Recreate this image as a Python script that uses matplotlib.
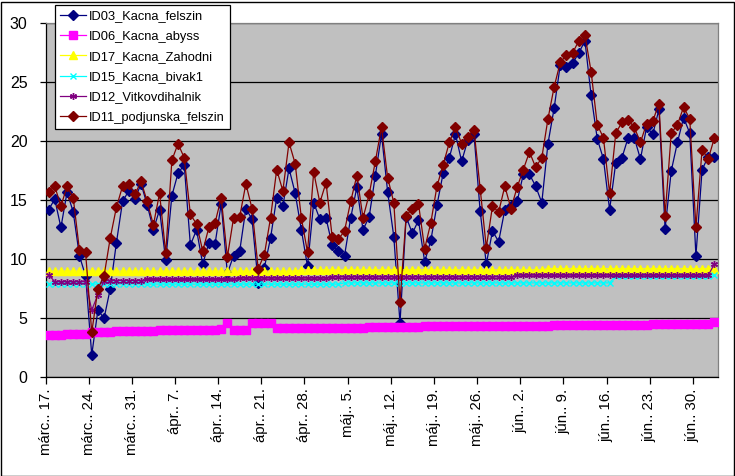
import matplotlib
matplotlib.use("Agg")
import matplotlib.pyplot as plt
from matplotlib.patches import Rectangle
import numpy as np

plt.rcParams['font.family'] = ['Liberation Sans', 'DejaVu Sans']

# ---------------- data (daily, márc. 17 -> júl. 3) ----------------
tick_labels = ["márc.. 17.", "márc.. 24.", "márc.. 31.", "ápr.. 7.", "ápr.. 14.",
               "ápr.. 21.", "ápr.. 28.", "máj.. 5.", "máj.. 12.", "máj.. 19.",
               "máj.. 26.", "jún.. 2.", "jún.. 9.", "jún.. 16.", "jún.. 23.", "jún.. 30."]

id03_kacna_felszin = [
    14.2, 15.1, 12.7, 15.7, 14.0, 10.3, 8.6, 1.9, 5.7, 5.0,
    7.5, 11.4, 14.9, 15.8, 15.1, 16.4, 14.6, 12.5, 14.2, 9.9,
    15.4, 17.3, 18.0, 11.2, 12.5, 9.6, 11.4, 11.3, 14.7, 8.8,
    10.3, 10.7, 14.3, 13.4, 8.0, 9.3, 11.8, 15.2, 14.5, 17.7,
    15.6, 12.5, 9.4, 14.8, 13.4, 13.5, 11.2, 10.7, 10.3, 13.5,
    16.1, 12.5, 13.6, 17.1, 20.6, 15.7, 11.9, 4.6, 13.6, 12.2,
    13.3, 9.8, 11.6, 14.6, 17.3, 18.6, 20.6, 18.3, 20.1, 20.6,
    14.1, 9.6, 12.4, 11.5, 14.2, 14.5, 14.9, 17.2, 17.2, 16.2,
    14.8, 19.8, 22.8, 26.5, 26.3, 26.6, 27.5, 28.5, 23.9, 20.2,
    18.5, 14.2, 18.2, 18.6, 20.3, 20.3, 18.5, 21.2, 20.6, 22.7,
    12.6, 17.5, 19.9, 22.0, 20.7, 10.3, 17.6, 18.7, 18.7]

id06_kacna_abyss = [
    3.6, 3.6, 3.6, 3.7, 3.7, 3.7, 3.7, 3.8, 3.8, 3.8,
    3.8, 3.9, 3.9, 3.9, 3.9, 3.9, 3.9, 3.9, 4.0, 4.0,
    4.0, 4.0, 4.0, 4.0, 4.0, 4.0, 4.0, 4.0, 4.1, 4.6,
    4.0, 4.0, 4.0, 4.6, 4.6, 4.6, 4.6, 4.2, 4.2, 4.2,
    4.2, 4.2, 4.2, 4.2, 4.2, 4.2, 4.2, 4.2, 4.2, 4.2,
    4.2, 4.2, 4.3, 4.3, 4.3, 4.3, 4.3, 4.3, 4.3, 4.3,
    4.3, 4.35, 4.35, 4.35, 4.35, 4.35, 4.35, 4.35, 4.35, 4.35,
    4.35, 4.35, 4.35, 4.35, 4.35, 4.35, 4.35, 4.35, 4.35, 4.35,
    4.35, 4.35, 4.45, 4.45, 4.45, 4.45, 4.45, 4.45, 4.45, 4.45,
    4.45, 4.45, 4.45, 4.45, 4.45, 4.45, 4.45, 4.45, 4.55, 4.55,
    4.55, 4.55, 4.55, 4.55, 4.55, 4.55, 4.55, 4.55, 4.7]

id17_kacna_zahodni = [
    9.0, 9.0, 9.0, 9.0, 9.0, 9.0, 9.0, 9.0, 9.0, 9.0,
    9.0, 9.0, 9.0, 9.0, 9.0, 9.0, 9.0, 9.0, 9.0, 9.0,
    9.0, 9.0, 9.0, 9.0, 9.0, 9.0, 9.0, 9.0, 9.0, 9.0,
    9.0, 9.0, 9.0, 9.0, 9.0, 9.0, 9.0, 9.0, 9.0, 9.0,
    9.0, 9.1, 9.1, 9.1, 9.1, 9.1, 9.1, 9.1, 9.1, 9.1,
    9.1, 9.1, 9.1, 9.1, 9.1, 9.1, 9.1, 9.1, 9.1, 9.1,
    9.1, 9.1, 9.1, 9.1, 9.1, 9.1, 9.1, 9.1, 9.1, 9.1,
    9.1, 9.1, 9.1, 9.1, 9.1, 9.1, 9.1, 9.1, 9.1, 9.1,
    9.1, 9.2, 9.2, 9.2, 9.2, 9.2, 9.2, 9.2, 9.2, 9.2,
    9.2, 9.2, 9.2, 9.2, 9.2, 9.2, 9.2, 9.2, 9.2, 9.2,
    9.2, 9.2, 9.2, 9.2, 9.2, 9.2, 9.2, 9.2, 9.2]

id15_kacna_bivak1 = [
    7.9, 7.9, 7.9, 7.9, 7.9, 7.9, 7.9, 7.9, 7.9, 7.9,
    7.9, 7.9, 7.9, 7.9, 7.9, 7.9, 7.9, 7.9, 7.9, 7.9,
    7.9, 7.9, 7.9, 7.9, 7.9, 7.9, 7.9, 7.9, 7.9, 7.9,
    7.9, 7.9, 7.9, 7.9, 7.9, 7.9, 7.9, 7.9, 7.9, 7.9,
    7.9, 7.9, 7.9, 7.9, 7.9, 7.9, 7.9, 7.9, 8.0, 8.0,
    8.0, 8.0, 8.0, 8.0, 8.0, 8.0, 8.0, 8.0, 8.0, 8.0,
    8.0, 8.0, 8.0, 8.0, 8.0, 8.0, 8.0, 8.0, 8.0, 8.0,
    8.0, 8.0, 8.0, 8.0, 8.0, 8.0, 8.0, 8.0, 8.0, 8.0,
    8.0, 8.0, 8.0, 8.0, 8.0, 8.0, 8.0, 8.0, 8.0, 8.0,
    8.0, 8.0, 8.6, 8.6, 8.6, 8.6, 8.6, 8.6, 8.6, 8.6,
    8.6, 8.6, 8.6, 8.6, 8.6, 8.6, 8.6, 8.6, 8.7]

id12_vitkovdihalnik = [
    8.7, 8.1, 8.1, 8.1, 8.1, 8.1, 8.1, 5.7, 7.0, 8.2,
    8.2, 8.2, 8.2, 8.2, 8.2, 8.2, 8.3, 8.3, 8.3, 8.3,
    8.3, 8.3, 8.3, 8.3, 8.3, 8.3, 8.3, 8.3, 8.3, 8.3,
    8.3, 8.4, 8.4, 8.4, 8.4, 8.4, 8.4, 8.4, 8.4, 8.4,
    8.4, 8.4, 8.4, 8.4, 8.4, 8.4, 8.5, 8.5, 8.5, 8.5,
    8.5, 8.5, 8.5, 8.5, 8.5, 8.5, 8.5, 8.5, 8.5, 8.5,
    8.5, 8.5, 8.5, 8.5, 8.5, 8.5, 8.5, 8.5, 8.5, 8.5,
    8.5, 8.5, 8.5, 8.5, 8.5, 8.5, 8.65, 8.65, 8.65, 8.65,
    8.65, 8.65, 8.65, 8.65, 8.65, 8.65, 8.65, 8.65, 8.65, 8.65,
    8.65, 8.65, 8.65, 8.65, 8.65, 8.65, 8.65, 8.65, 8.65, 8.65,
    8.65, 8.65, 8.65, 8.65, 8.65, 8.65, 8.65, 8.65, 9.6]

id11_podjunska_felszin = [
    15.7, 16.2, 14.5, 16.2, 15.2, 10.8, 10.6, 3.8, 7.5, 8.6,
    11.8, 14.4, 16.2, 16.4, 15.5, 16.6, 14.9, 12.9, 15.6, 10.5,
    18.4, 19.8, 18.6, 13.8, 13.0, 10.7, 12.7, 13.1, 15.2, 10.2,
    13.5, 13.6, 16.4, 14.3, 9.2, 10.4, 13.5, 17.6, 15.8, 19.9,
    18.1, 13.5, 10.6, 17.4, 14.8, 16.5, 11.9, 11.7, 12.4, 14.9,
    17.1, 13.5, 15.5, 18.3, 21.2, 16.9, 14.8, 6.4, 13.7, 14.3,
    14.7, 10.9, 13.1, 16.2, 18.0, 19.9, 21.2, 19.8, 20.4, 21.0,
    16.0, 11.0, 14.5, 14.0, 16.2, 14.3, 16.1, 17.6, 19.1, 17.8,
    18.6, 21.9, 24.6, 26.7, 27.3, 27.5, 28.5, 29.0, 25.9, 21.4,
    20.3, 15.6, 20.7, 21.6, 21.8, 21.2, 19.9, 21.5, 21.7, 23.2,
    13.7, 20.7, 21.4, 22.9, 21.9, 12.7, 19.3, 18.5, 20.3]

# ---------------- figure ----------------
W, H = 735, 476
fig = plt.figure(figsize=(W / 100, H / 100), dpi=100)
fig.patch.set_facecolor('white')

L, R, T, B = 45.5, 717.5, 23.3, 377.3
ax = fig.add_axes([L / W, 1 - B / H, (R - L) / W, (B - T) / H])
ax.set_facecolor('#C0C0C0')

n = len(id03_kacna_felszin)
x = np.arange(n) + 0.5

lw = 0.9
ax.plot(x, id03_kacna_felszin, color='#000080', lw=lw, marker='D', ms=4.8,
        mec='#000080', mfc='#000080', label='ID03_Kacna_felszin', zorder=3)
ax.plot(x, id06_kacna_abyss, color='#FF00FF', lw=lw, marker='s', ms=5.2,
        mec='#FF00FF', mfc='#FF00FF', label='ID06_Kacna_abyss', zorder=3)
ax.plot(x, id17_kacna_zahodni, color='#FFFF00', lw=lw, marker='^', ms=5.5,
        mec='#FFFF00', mfc='#FFFF00', label='ID17_Kacna_Zahodni', zorder=3)
ax.plot(x, id15_kacna_bivak1, color='#00FFFF', lw=lw, marker='x', ms=4,
        mew=1.0, mec='#00FFFF', label='ID15_Kacna_bivak1', zorder=3)
ax.plot(x, id12_vitkovdihalnik, color='#800080', lw=lw, marker=(6, 2, 0), ms=5,
        mew=1.0, mec='#800080', label='ID12_Vitkovdihalnik', zorder=3)
ax.plot(x, id11_podjunska_felszin, color='#800000', lw=lw, marker='D', ms=4.8,
        mec='#800000', mfc='#800000', label='ID11_podjunska_felszin', zorder=3)

ax.set_xlim(0, n)
ax.set_ylim(0, 30)
ax.set_yticks(np.arange(0, 31, 5))
ax.yaxis.grid(True, color='black', lw=0.9)
ax.set_axisbelow(True)

tick_pos = np.arange(len(tick_labels)) * 7
ax.set_xticks(tick_pos)
ax.set_xticklabels(tick_labels, rotation=90, fontsize=10.8)
ax.tick_params(axis='x', direction='out', length=5, width=0.9, color='black', pad=3)
ax.tick_params(axis='y', direction='out', length=4, width=0.9, color='black',
               labelsize=11.5, pad=9)

for s in ['top', 'right']:
    ax.spines[s].set_color('#808080')
    ax.spines[s].set_linewidth(0.9)
for s in ['left', 'bottom']:
    ax.spines[s].set_color('black')
    ax.spines[s].set_linewidth(0.9)

leg = ax.legend(loc='upper left', bbox_to_anchor=(54.5 / W, 1 - 5 / H),
                bbox_transform=fig.transFigure, fontsize=9.3, frameon=True,
                fancybox=False, shadow=False, framealpha=1, edgecolor='black',
                borderaxespad=0, borderpad=0.4, handlelength=2.0,
                handletextpad=0.3, labelspacing=0.64)
leg.get_frame().set_linewidth(0.9)
leg.set_zorder(10)

fig.patches.append(Rectangle((0.5 / W, 0.5 / H), 1 - 2 / W, 1 - 2 / H,
                             transform=fig.transFigure, fill=False,
                             edgecolor='black', lw=1.0))

fig.savefig('out.png', dpi=100)
